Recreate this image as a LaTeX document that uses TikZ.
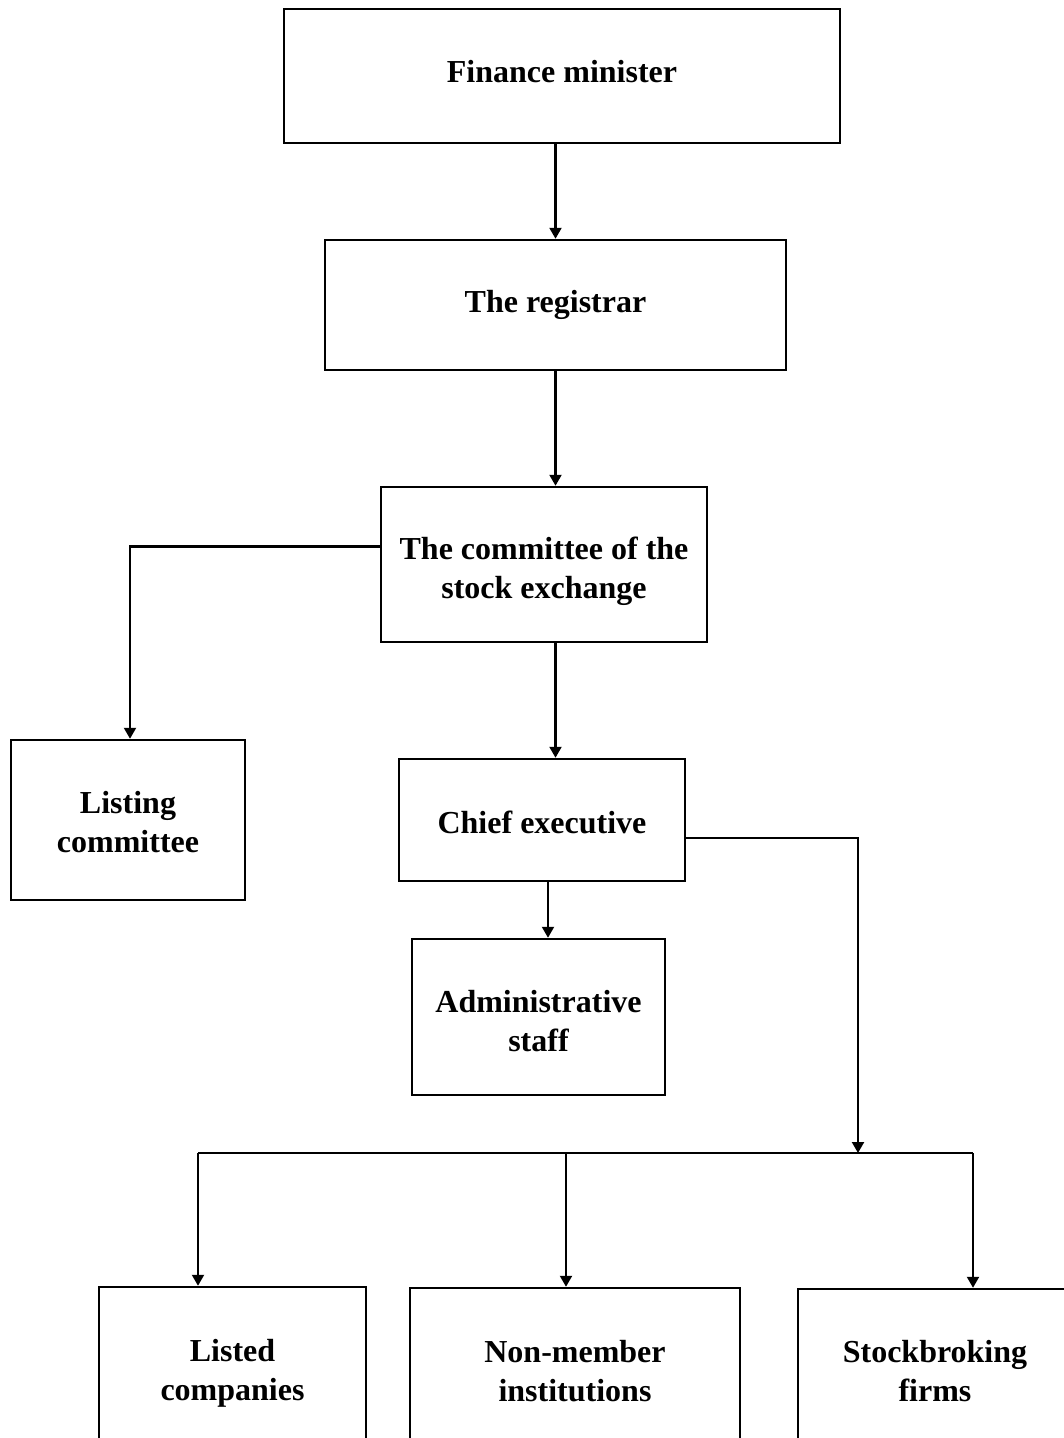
\documentclass[tikz,border=0pt]{standalone}
\usepackage{fontspec}
\setmainfont{Liberation Serif}
\usetikzlibrary{arrows.meta}
\begin{document}
\begin{tikzpicture}[x=1pt,y=-1pt,
  box/.style={draw,line width=2.5pt,inner sep=0pt},
  txt/.style={inner sep=0pt,align=center,
    font=\fontsize{32}{39}\selectfont\bfseries},
  link/.style={line width=2.2pt},
  arrowlink/.style={link,-{Triangle[length=11pt,width=12pt]}}]
\useasboundingbox (0,0) rectangle (1064,1438);
\clip (0,0) rectangle (1064,1438);
% boxes, each with its text set a little off centre where needed
\node[box,minimum width=556,minimum height=134,
  label={[txt,yshift=4pt]center:Finance minister}] (fm) at (562,76) {};
\node[box,minimum width=461,minimum height=130,
  label={[txt]center:The registrar}] (reg) at (555.5,305) {};
\node[box,minimum width=326,minimum height=155,
  label={[txt,yshift=-7pt]center:The committee of the\\stock exchange}] (comm) at (544,564.5) {};
\node[box,minimum width=234,minimum height=160,
  label={[txt,yshift=-2pt]center:Listing\\committee}] (listing) at (128,820) {};
\node[box,minimum width=286,minimum height=122,
  label={[txt,yshift=-2pt]center:Chief executive}] (chief) at (542,820) {};
\node[box,minimum width=253,minimum height=156,
  label={[txt,yshift=-4pt]center:Administrative\\staff}] (admin) at (538.5,1017) {};
\node[box,minimum width=267,minimum height=168,
  label={[txt,yshift=-2pt]center:Listed\\companies}] (listed) at (232.5,1371) {};
\node[box,minimum width=330,minimum height=166,
  label={[txt]center:Non-member\\institutions}] (nonmem) at (575,1371) {};
\node[box,minimum width=274,minimum height=164,
  label={[txt]center:Stockbroking\\firms}] (stock) at (935,1371) {};
% distribution line below the chief executive
\coordinate (bus) at (858,1153);
\coordinate (busL) at (198,1153);
\coordinate (busM) at (566,1153);
\coordinate (busR) at (973,1153);
% connectors
\draw[arrowlink] (fm.south -| reg.north) -- (reg.north);
\draw[arrowlink] (reg.south) -- (reg.south |- comm.north);
\draw[arrowlink] ([yshift=18pt]comm.west) -| ([xshift=2pt]listing.north);
\draw[arrowlink] (comm.south -| reg.south) -- (reg.south |- chief.north);
\draw[arrowlink] ([xshift=6pt]chief.south) -- ([xshift=6pt]chief.south |- admin.north);
\draw[arrowlink] ([yshift=-18pt]chief.east) -| (bus);
\draw[link] (busL) -- (busR);
\draw[arrowlink] (busL) -- (busL |- listed.north);
\draw[arrowlink] (busM) -- (busM |- nonmem.north);
\draw[arrowlink] (busR) -- (busR |- stock.north);
\end{tikzpicture}
\end{document}
